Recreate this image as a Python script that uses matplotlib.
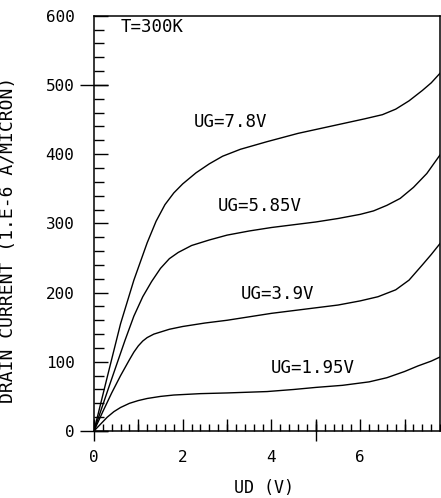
import matplotlib
matplotlib.use("Agg")
import matplotlib.pyplot as plt
from matplotlib.ticker import MultipleLocator, NullFormatter

plt.rcParams["font.family"] = ["DejaVu Sans Mono"]

# drain voltage (V) / drain current (1e-6 A/micron)
ud_78 = [0, 0.3, 0.6, 0.9, 1.2, 1.4, 1.6, 1.8, 2.0, 2.3, 2.6, 2.9, 3.3, 3.9, 4.6,
         5.1, 5.6, 6.1, 6.5, 6.8, 7.1, 7.4, 7.6, 7.8]
id_78 = [0, 78, 155, 218, 272, 303, 327, 344, 357, 373, 386, 397, 407, 418, 430,
         437, 444, 451, 457, 465, 477, 492, 503, 517]

ud_585 = [0, 0.35, 0.7, 0.9, 1.1, 1.3, 1.5, 1.7, 1.9, 2.2, 2.6, 3.0, 3.5, 4.0, 4.5,
          5.0, 5.5, 6.0, 6.3, 6.6, 6.9, 7.2, 7.5, 7.8]
id_585 = [0, 66, 131, 166, 194, 216, 235, 249, 258, 268, 276, 283, 289, 294, 298,
          302, 307, 313, 318, 326, 336, 352, 372, 399]

ud_39 = [0, 0.2, 0.4, 0.6, 0.8, 0.9, 1.0, 1.1, 1.2, 1.35, 1.5, 1.7, 2.0, 2.5, 3.0,
         3.5, 4.0, 4.5, 5.0, 5.5, 6.0, 6.4, 6.8, 7.1, 7.4, 7.6, 7.8]
id_39 = [0, 28, 55, 80, 103, 114, 123, 130, 135, 140, 143, 147, 151, 156, 160,
         165, 170, 174, 178, 182, 188, 194, 204, 218, 240, 255, 271]

ud_195 = [0, 0.15, 0.3, 0.45, 0.6, 0.8, 1.0, 1.2, 1.5, 1.8, 2.4, 3.0, 3.9, 4.5,
          5.0, 5.6, 6.2, 6.6, 7.0, 7.3, 7.6, 7.8]
id_195 = [0, 10, 20, 28, 34, 40, 44, 47, 50, 52, 54, 55, 57, 60,
          63, 66, 71, 77, 86, 94, 101, 107]

curves = [
    (ud_78, id_78, "UG=7.8V", (2.26, 446)),
    (ud_585, id_585, "UG=5.85V", (2.80, 325)),
    (ud_39, id_39, "UG=3.9V", (3.30, 198)),
    (ud_195, id_195, "UG=1.95V", (3.99, 91)),
]

fig = plt.figure(figsize=(4.41, 4.98), dpi=100)
ax = fig.add_axes([0.213, 0.1345, 0.785, 0.834])

for ud, idr, label, (tx, ty) in curves:
    ax.plot(ud, idr, color="black", lw=1.0)
    ax.text(tx, ty, label, fontsize=12.5, va="center", ha="left")

ax.text(0.6, 584, "T=300K", fontsize=12.5, va="center", ha="left")

ax.set_xlim(0, 7.8)
ax.set_ylim(0, 600)
ax.xaxis.set_major_locator(MultipleLocator(2))
ax.xaxis.set_minor_locator(MultipleLocator(0.2))
ax.yaxis.set_major_locator(MultipleLocator(100))
ax.yaxis.set_minor_locator(MultipleLocator(20))

ax.tick_params(which="both", direction="in", top=False, right=False, labelsize=11.5, width=1.0)
ax.tick_params(axis="y", which="major", length=10, pad=14)
ax.tick_params(axis="y", which="minor", length=7)
ax.tick_params(axis="x", which="major", length=9, pad=14)
ax.tick_params(axis="x", which="minor", length=5)

# integer ticks on x are a bit taller than the 0.2 ones
xint = ax.secondary_xaxis("bottom")
xint.set_xticks([1, 3, 5, 7])
xint.xaxis.set_major_formatter(NullFormatter())
xint.tick_params(direction="in", length=9, width=1.0)
xint.spines["bottom"].set_visible(False)

# the plotter's crossing ticks
xcross = ax.secondary_xaxis("bottom")
xcross.set_xticks([0, 5])
xcross.xaxis.set_major_formatter(NullFormatter())
xcross.tick_params(direction="inout", length=15, width=1.0)
xcross.spines["bottom"].set_visible(False)

ycross = ax.secondary_yaxis("left")
ycross.set_yticks([0, 500])
ycross.yaxis.set_major_formatter(NullFormatter())
ycross.tick_params(direction="inout", length=20, width=1.0)
ycross.spines["left"].set_visible(False)

for sp in ax.spines.values():
    sp.set_linewidth(1.1)

ax.set_xlabel("UD (V)", fontsize=12)
ax.set_ylabel("DRAIN CURRENT (1.E-6 A/MICRON)", fontsize=13)
ax.xaxis.label.set_va("center")
ax.xaxis.set_label_coords(0.49, -0.137)
ax.yaxis.set_label_coords(-0.222, 0.46)

fig.savefig("out.png", dpi=100)
